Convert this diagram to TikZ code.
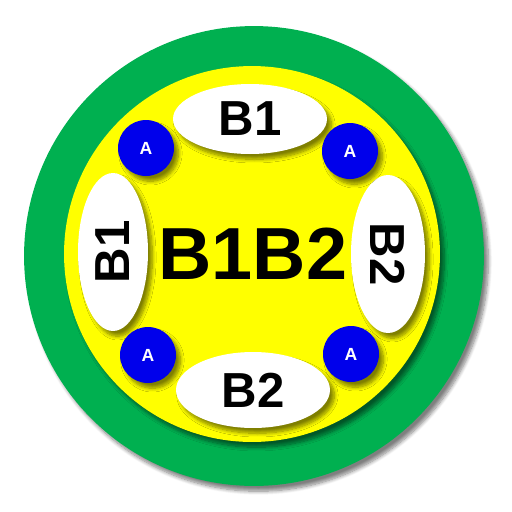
\documentclass[tikz,border=0pt]{standalone}
\usepackage{fontspec}
\setmainfont{Liberation Sans}
\usetikzlibrary{shapes.geometric,shadows.blur}
\definecolor{ringgreen}{RGB}{0,176,80}
\definecolor{coreyellow}{RGB}{255,255,0}
\definecolor{dotblue}{RGB}{0,0,235}

\begin{document}
\begin{tikzpicture}[x=0.02cm,y=-0.02cm,
    shade/.style={blur shadow={shadow xshift=2.5pt,shadow yshift=-3pt,shadow blur steps=8,shadow opacity=50}},
    ring/.style={circle,fill=ringgreen,inner sep=0pt,minimum size=9.2cm,shade},
    core/.style={circle,fill=coreyellow,inner sep=0pt,minimum size=7.52cm,shade},
    pod/.style={ellipse,fill=white,inner sep=0pt,minimum width=3.08cm,minimum height=1.4cm,shade,
        font=\fontsize{28}{28}\selectfont\bfseries},
    dot/.style={circle,fill=dotblue,inner sep=0pt,minimum size=1.12cm,shade,text=white,
        font=\fontsize{10}{10}\selectfont\bfseries}]
    \useasboundingbox (0,0) rectangle (512,512);
    \node[ring] (outer) at (254,256) {};
    \node[core] (inner) at (252,254) {};
    % white ellipses
    \node[pod] (top) at (250,119) {B1};
    \node[pod,minimum height=1.52cm] (bottom) at (253,390) {B2};
    \node[pod,rotate=90,minimum width=3.16cm] (left) at (113,252) {B1};
    \node[pod,rotate=-90,minimum width=3.16cm,minimum height=1.48cm] (right) at (388,254) {B2};
    % blue dots
    \node[dot] (a1) at (146,148) {A};
    \node[dot] (a2) at (350,151) {A};
    \node[dot] (a3) at (148,355) {A};
    \node[dot] (a4) at (351,354) {A};
    \node[font=\fontsize{42}{42}\selectfont\bfseries] (name) at (253,254) {B1B2};
\end{tikzpicture}
\end{document}
